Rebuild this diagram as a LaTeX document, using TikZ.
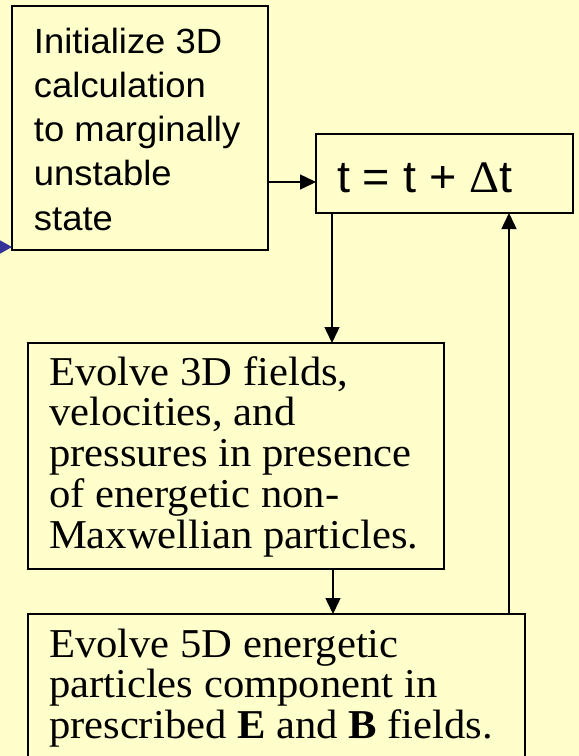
\documentclass[tikz,border=0pt]{standalone}
\usepackage{fontspec}
\setmainfont{Liberation Serif}[FakeStretch=1.04]
\newfontfamily\boxsans{Liberation Sans}[FakeStretch=1.04]
\newfontfamily\boxserif{Liberation Serif}[FakeStretch=1.04]
\usetikzlibrary{arrows.meta}
\definecolor{bgyellow}{HTML}{FFFFCC}
\definecolor{tipblue}{HTML}{333399}
\begin{document}
\begin{tikzpicture}[x=1pt,y=-1pt,
  boxstyle/.style={draw=black, line width=2pt, fill=bgyellow, inner sep=0pt, outer sep=0pt, anchor=north west},
  conn/.style={draw=black, line width=1.5pt, -{Triangle[length=16pt,width=15pt]}},
  txt/.style={inner sep=0pt, outer sep=0pt, anchor=base west}]
\fill[bgyellow] (0,0) rectangle (579,756);
\useasboundingbox (0,0) rectangle (579,756);

\node[boxstyle, minimum width=256pt, minimum height=244pt] (b1) at (12,6) {};
\node[boxstyle, minimum width=257pt, minimum height=79pt] (b2) at (316,134) {};
\node[boxstyle, minimum width=416pt, minimum height=226pt] (b3) at (28,343) {};
\node[boxstyle, minimum width=497pt, minimum height=170pt] (b4) at (28,614) {};

\node[txt] (t1) at (34,53) {\boxsans\fontsize{35}{44.25}\selectfont
  \begin{tabular}[t]{@{}l@{}}Initialize 3D\\calculation\\to marginally\\unstable\\state\end{tabular}};
\node[txt] (t2) at (337,192) {\boxsans\fontsize{45}{52}\selectfont t = t + {\boxserif Δ}t};
\node[txt] (t3) at (49,385) {\boxserif\fontsize{41}{40.7}\selectfont
  \begin{tabular}[t]{@{}l@{}}Evolve 3D fields,\\velocities, and\\pressures in presence\\of energetic non-\\Maxwellian particles.\end{tabular}};
\node[txt] (t4) at (49,657) {\boxserif\fontsize{41}{40.5}\selectfont
  \begin{tabular}[t]{@{}l@{}}Evolve 5D energetic\\particles component in\\prescribed \textbf{E} and \textbf{B} fields.\end{tabular}};

\coordinate (inleft) at (-20,247);
\draw[line width=1.5pt, draw=tipblue, -{Triangle[length=12pt,width=13pt]}, tipblue] (inleft) -- (b1.west |- inleft);

\draw[conn] (b1.east |- 0,182) -- (b2.west |- 0,182);
\draw[conn] (b2.south -| 332,0) -- (b3.north -| 332,0);
\draw[conn] (b3.south -| 333,0) -- (b4.north -| 333,0);
\draw[conn] (b4.north -| 509,0) -- (b2.south -| 509,0);
\end{tikzpicture}
\end{document}
